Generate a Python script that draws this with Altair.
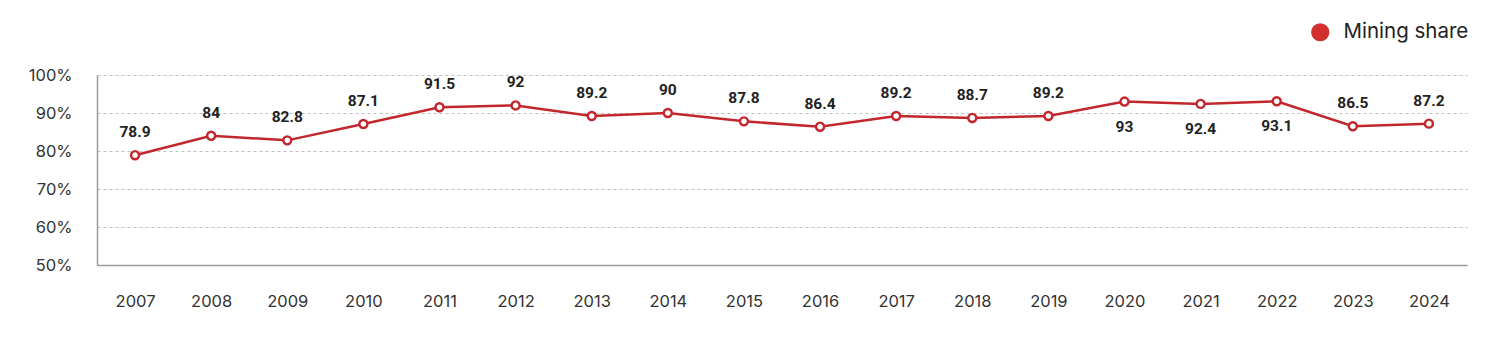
import altair as alt
import pandas as pd

years = [2007, 2008, 2009, 2010, 2011, 2012, 2013, 2014, 2015, 2016,
         2017, 2018, 2019, 2020, 2021, 2022, 2023, 2024]
share = [78.9, 84, 82.8, 87.1, 91.5, 92, 89.2, 90, 87.8, 86.4,
         89.2, 88.7, 89.2, 93, 92.4, 93.1, 86.5, 87.2]
labels = ["78.9", "84", "82.8", "87.1", "91.5", "92", "89.2", "90", "87.8", "86.4",
          "89.2", "88.7", "89.2", "93", "92.4", "93.1", "86.5", "87.2"]
series = "Mining share"
below_years = [2020, 2021, 2022]
y_ticks = [50, 60, 70, 80, 90, 100]

df = pd.DataFrame({"year": [str(y) for y in years], "share": share,
                   "label": labels, "series": series})
below = [str(y) for y in below_years]

RED = "#c1272d"
x = alt.X("year:O", scale=alt.Scale(type="point", padding=0.5),
          axis=alt.Axis(title=None, labelAngle=0, labelFontSize=16.5, labelColor="#333333",
                        labelFont="Inter", labelPadding=28, ticks=False, labelOverlap=False,
                        domainColor="#9a9a9a", domainWidth=1.5))
y = alt.Y("share:Q", scale=alt.Scale(domain=[50, 100], nice=False, zero=False),
          axis=alt.Axis(title=None, values=y_ticks, tickCount=6,
                        labelExpr="datum.value + '%'", labelFontSize=16.5,
                        labelColor="#333333", labelFont="Inter", labelPadding=25,
                        labelOverlap=False, labelBound=False, labelFlush=False,
                        ticks=False, grid=True, gridDash=[3, 3], gridColor="#bdbdbd",
                        domainColor="#9a9a9a", domainWidth=1.5))

base = alt.Chart(df)
line = base.mark_line(strokeWidth=2.5).encode(
    x=x, y=y,
    color=alt.Color("series:N", scale=alt.Scale(domain=[series], range=[RED]),
                    legend=alt.Legend(title=None, orient="none", legendX=1213, legendY=-53,
                                      symbolType="circle", symbolSize=330,
                                      symbolFillColor="#d32f2f", symbolStrokeColor="#d32f2f",
                                      symbolStrokeWidth=0, labelFontSize=20.5,
                                      labelFont="Inter", labelColor="#222222",
                                      labelOffset=13)))
pts = base.mark_point(filled=True, fill="white", stroke=RED, strokeWidth=2.4,
                      size=65, opacity=1).encode(x=x, y=y)
txt_style = dict(font="Roboto", fontWeight="bold", fontSize=15.5, color="#222222")
above = base.transform_filter(
    ~alt.FieldOneOfPredicate(field="year", oneOf=below)
).mark_text(dy=-23, **txt_style).encode(x=x, y=y, text="label:N")
under = base.transform_filter(
    alt.FieldOneOfPredicate(field="year", oneOf=below)
).mark_text(dy=25, **txt_style).encode(x=x, y=y, text="label:N")

chart = alt.layer(line, pts, above, under).properties(
    width=1370, height=190,
    autosize=alt.AutoSizeParams(type="none"),
    padding={"left": 97, "top": 75, "right": 33, "bottom": 73},
    background="white",
).configure_view(stroke=None)

chart.save("out.html", embed_options={"renderer": "svg", "actions": False})
